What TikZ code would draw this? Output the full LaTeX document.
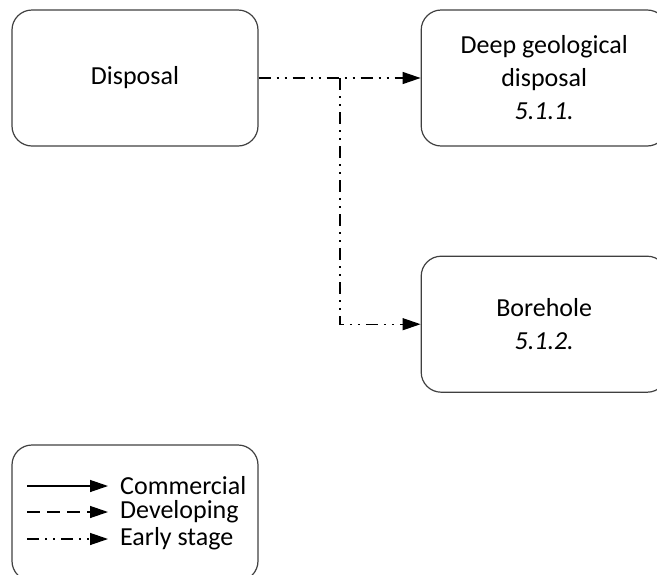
\documentclass[tikz,border=0pt]{standalone}
\usepackage{fontspec}
\setmainfont{Carlito}
\usetikzlibrary{arrows.meta, positioning, shapes.misc}

\tikzset{
    stage/.style={draw=black!75, line width=1.2pt, rounded corners=20pt,
        minimum width=246pt, minimum height=136pt, align=center,
        font=\fontsize{26}{33}\selectfont},
    commercial/.style={-{Triangle[length=18pt, width=12pt]}, line width=1.3pt},
    developing/.style={commercial, dash pattern=on 13pt off 7pt},
    early/.style={commercial, dash pattern=on 12pt off 6pt on 2pt off 6pt on 2pt off 6pt},
    legendtext/.style={inner sep=0pt, anchor=west, font=\fontsize{26}{26}\selectfont},
}

\begin{document}
\begin{tikzpicture}[x=1pt, y=1pt]
    \clip (0,0) rectangle (657,-574);

    % stages
    \node [stage] (disposal) at (135,-78) {Disposal};
    \node [stage, right=162pt of disposal] (deep) {Deep geological\\disposal\\\textit{5.1.1.}};
    \node [stage, below=109pt of deep] (borehole) {Borehole\\\textit{5.1.2.}};

    % links
    \coordinate (branch) at (340,-78);
    \draw [early] (disposal.east) -- (deep.west);
    \draw [early] (branch) |- (borehole.west);

    % legend
    \node [stage] (legend) at (135,-513) {};
    \coordinate (s1) at (27,-486);
    \coordinate (e1) at (108,-486);
    \coordinate (s2) at (27,-512);
    \coordinate (e2) at (108,-512);
    \coordinate (s3) at (27,-539);
    \coordinate (e3) at (108,-539);
    \node [legendtext, right=12pt of e1] (lab1) {Commercial};
    \node [legendtext, right=12pt of e2] (lab2) {Developing};
    \node [legendtext, right=12pt of e3] (lab3) {Early stage};
    \draw [commercial] (s1) -- (e1);
    \draw [developing] (s2) -- (e2);
    \draw [early] (s3) -- (e3);
\end{tikzpicture}
\end{document}
